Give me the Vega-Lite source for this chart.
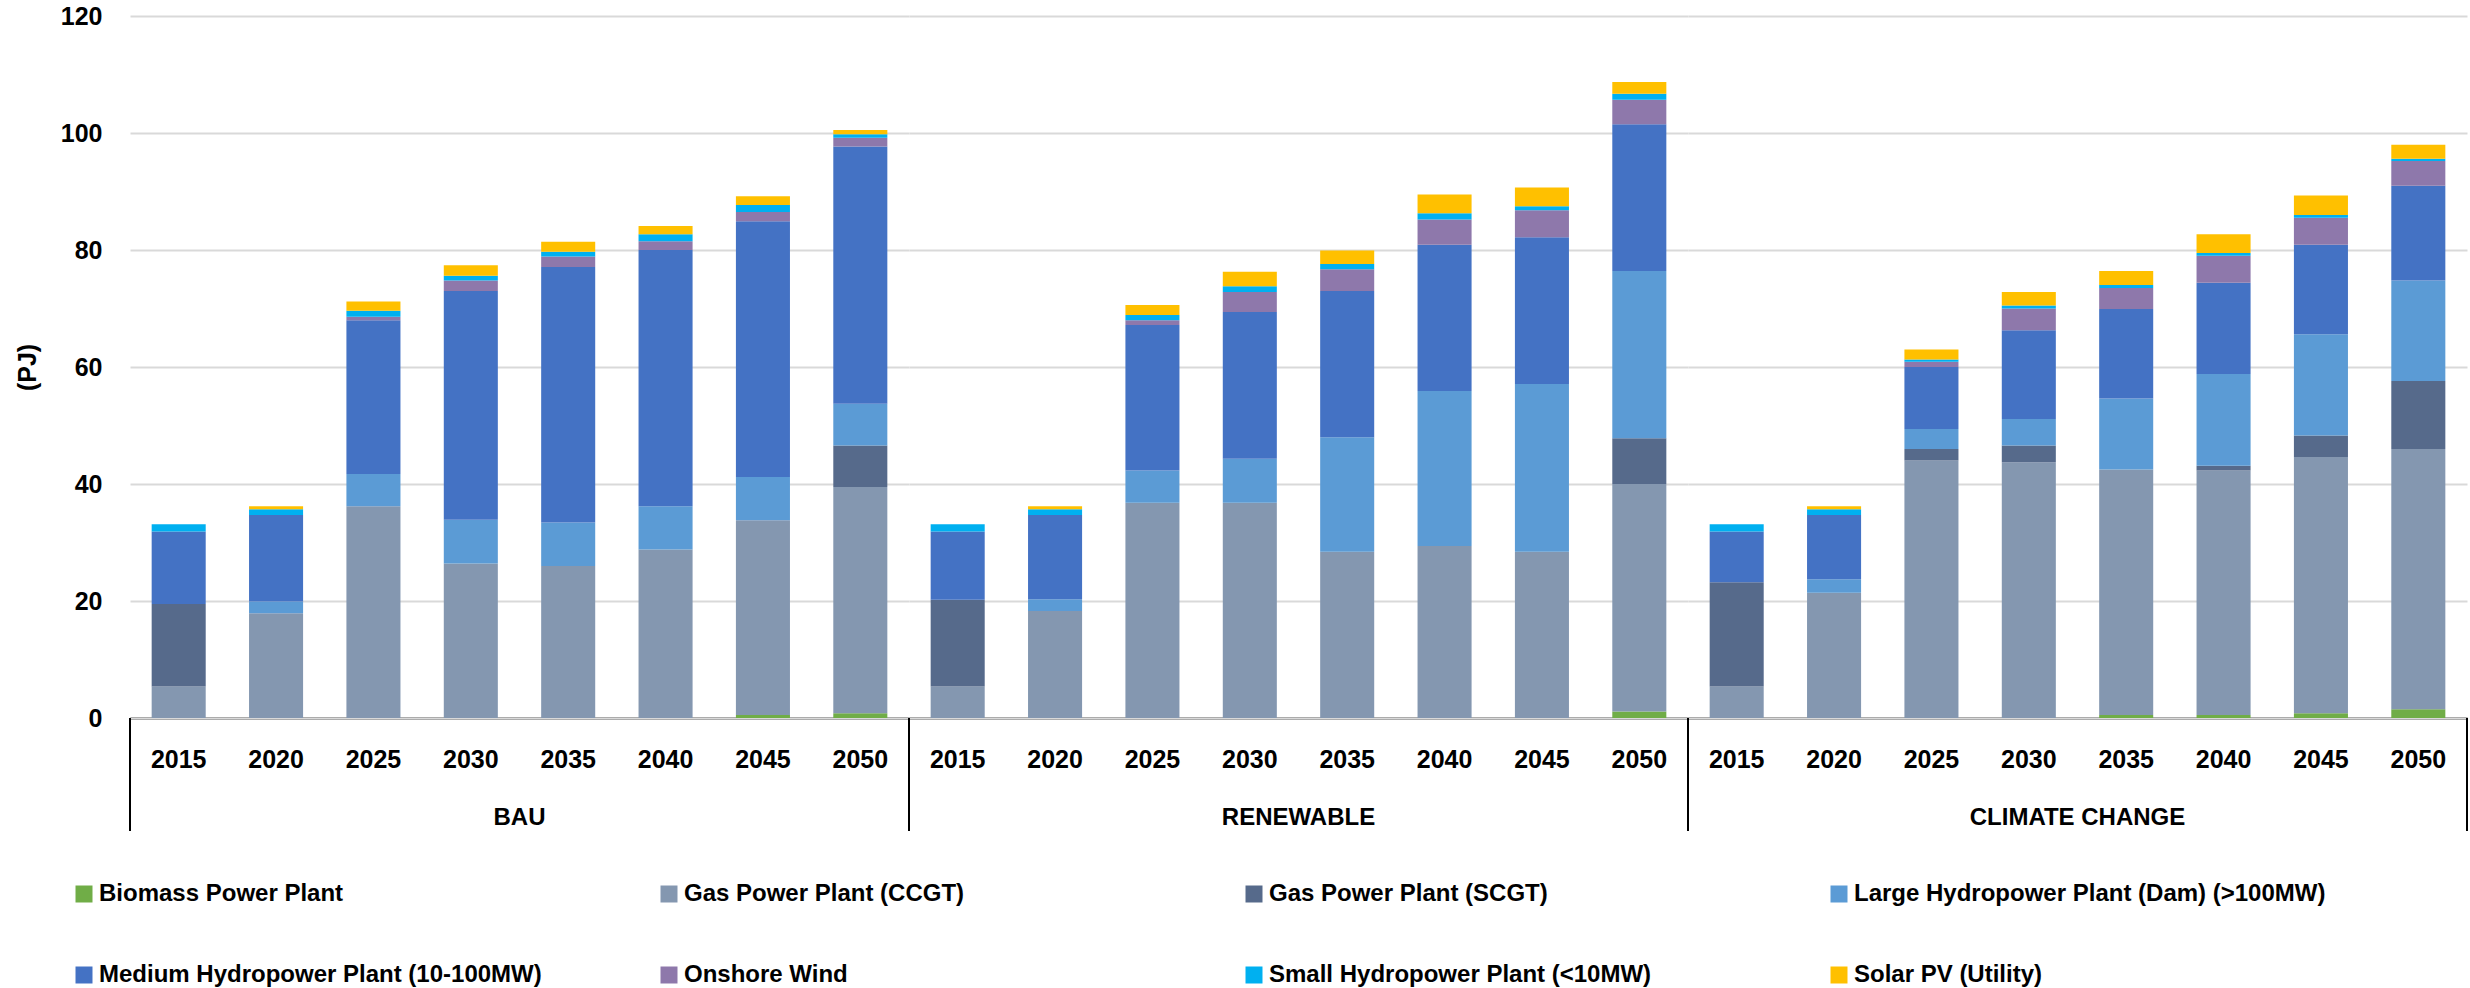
{
  "$schema": "https://vega.github.io/schema/vega-lite/v6.json",
  "padding": {"left": 15, "top": 4, "right": 0, "bottom": 0},
  "background": "white",
  "config": {
    "font": "Liberation Sans",
    "view": {"stroke": null},
    "axis": {"labelFont": "Liberation Sans", "titleFont": "Liberation Sans"}
  },
  "data": {"values": [
    {"scenario": "BAU", "year": "2015", "tech": "Gas Power Plant (CCGT)", "value": 5.4},
    {"scenario": "BAU", "year": "2015", "tech": "Gas Power Plant (SCGT)", "value": 14.1},
    {"scenario": "BAU", "year": "2015", "tech": "Medium Hydropower Plant (10-100MW)", "value": 12.4},
    {"scenario": "BAU", "year": "2015", "tech": "Small Hydropower Plant (<10MW)", "value": 1.2},
    {"scenario": "BAU", "year": "2020", "tech": "Gas Power Plant (CCGT)", "value": 17.9},
    {"scenario": "BAU", "year": "2020", "tech": "Large Hydropower Plant (Dam) (>100MW)", "value": 2.0},
    {"scenario": "BAU", "year": "2020", "tech": "Medium Hydropower Plant (10-100MW)", "value": 14.8},
    {"scenario": "BAU", "year": "2020", "tech": "Small Hydropower Plant (<10MW)", "value": 1.0},
    {"scenario": "BAU", "year": "2020", "tech": "Solar PV (Utility)", "value": 0.5},
    {"scenario": "BAU", "year": "2025", "tech": "Gas Power Plant (CCGT)", "value": 36.2},
    {"scenario": "BAU", "year": "2025", "tech": "Large Hydropower Plant (Dam) (>100MW)", "value": 5.5},
    {"scenario": "BAU", "year": "2025", "tech": "Medium Hydropower Plant (10-100MW)", "value": 26.3},
    {"scenario": "BAU", "year": "2025", "tech": "Onshore Wind", "value": 0.6},
    {"scenario": "BAU", "year": "2025", "tech": "Small Hydropower Plant (<10MW)", "value": 1.0},
    {"scenario": "BAU", "year": "2025", "tech": "Solar PV (Utility)", "value": 1.6},
    {"scenario": "BAU", "year": "2030", "tech": "Gas Power Plant (CCGT)", "value": 26.4},
    {"scenario": "BAU", "year": "2030", "tech": "Large Hydropower Plant (Dam) (>100MW)", "value": 7.5},
    {"scenario": "BAU", "year": "2030", "tech": "Medium Hydropower Plant (10-100MW)", "value": 39.1},
    {"scenario": "BAU", "year": "2030", "tech": "Onshore Wind", "value": 1.8},
    {"scenario": "BAU", "year": "2030", "tech": "Small Hydropower Plant (<10MW)", "value": 0.8},
    {"scenario": "BAU", "year": "2030", "tech": "Solar PV (Utility)", "value": 1.8},
    {"scenario": "BAU", "year": "2035", "tech": "Gas Power Plant (CCGT)", "value": 26.0},
    {"scenario": "BAU", "year": "2035", "tech": "Large Hydropower Plant (Dam) (>100MW)", "value": 7.4},
    {"scenario": "BAU", "year": "2035", "tech": "Medium Hydropower Plant (10-100MW)", "value": 43.7},
    {"scenario": "BAU", "year": "2035", "tech": "Onshore Wind", "value": 1.8},
    {"scenario": "BAU", "year": "2035", "tech": "Small Hydropower Plant (<10MW)", "value": 0.8},
    {"scenario": "BAU", "year": "2035", "tech": "Solar PV (Utility)", "value": 1.7},
    {"scenario": "BAU", "year": "2040", "tech": "Gas Power Plant (CCGT)", "value": 28.8},
    {"scenario": "BAU", "year": "2040", "tech": "Large Hydropower Plant (Dam) (>100MW)", "value": 7.4},
    {"scenario": "BAU", "year": "2040", "tech": "Medium Hydropower Plant (10-100MW)", "value": 43.8},
    {"scenario": "BAU", "year": "2040", "tech": "Onshore Wind", "value": 1.5},
    {"scenario": "BAU", "year": "2040", "tech": "Small Hydropower Plant (<10MW)", "value": 1.2},
    {"scenario": "BAU", "year": "2040", "tech": "Solar PV (Utility)", "value": 1.4},
    {"scenario": "BAU", "year": "2045", "tech": "Biomass Power Plant", "value": 0.5},
    {"scenario": "BAU", "year": "2045", "tech": "Gas Power Plant (CCGT)", "value": 33.3},
    {"scenario": "BAU", "year": "2045", "tech": "Large Hydropower Plant (Dam) (>100MW)", "value": 7.4},
    {"scenario": "BAU", "year": "2045", "tech": "Medium Hydropower Plant (10-100MW)", "value": 43.7},
    {"scenario": "BAU", "year": "2045", "tech": "Onshore Wind", "value": 1.6},
    {"scenario": "BAU", "year": "2045", "tech": "Small Hydropower Plant (<10MW)", "value": 1.2},
    {"scenario": "BAU", "year": "2045", "tech": "Solar PV (Utility)", "value": 1.5},
    {"scenario": "BAU", "year": "2050", "tech": "Biomass Power Plant", "value": 0.8},
    {"scenario": "BAU", "year": "2050", "tech": "Gas Power Plant (CCGT)", "value": 38.7},
    {"scenario": "BAU", "year": "2050", "tech": "Gas Power Plant (SCGT)", "value": 7.1},
    {"scenario": "BAU", "year": "2050", "tech": "Large Hydropower Plant (Dam) (>100MW)", "value": 7.1},
    {"scenario": "BAU", "year": "2050", "tech": "Medium Hydropower Plant (10-100MW)", "value": 44.0},
    {"scenario": "BAU", "year": "2050", "tech": "Onshore Wind", "value": 1.5},
    {"scenario": "BAU", "year": "2050", "tech": "Small Hydropower Plant (<10MW)", "value": 0.6},
    {"scenario": "BAU", "year": "2050", "tech": "Solar PV (Utility)", "value": 0.7},

    {"scenario": "RENEWABLE", "year": "2015", "tech": "Gas Power Plant (CCGT)", "value": 5.4},
    {"scenario": "RENEWABLE", "year": "2015", "tech": "Gas Power Plant (SCGT)", "value": 14.8},
    {"scenario": "RENEWABLE", "year": "2015", "tech": "Medium Hydropower Plant (10-100MW)", "value": 11.7},
    {"scenario": "RENEWABLE", "year": "2015", "tech": "Small Hydropower Plant (<10MW)", "value": 1.2},
    {"scenario": "RENEWABLE", "year": "2020", "tech": "Gas Power Plant (CCGT)", "value": 18.3},
    {"scenario": "RENEWABLE", "year": "2020", "tech": "Large Hydropower Plant (Dam) (>100MW)", "value": 2.0},
    {"scenario": "RENEWABLE", "year": "2020", "tech": "Medium Hydropower Plant (10-100MW)", "value": 14.4},
    {"scenario": "RENEWABLE", "year": "2020", "tech": "Small Hydropower Plant (<10MW)", "value": 1.0},
    {"scenario": "RENEWABLE", "year": "2020", "tech": "Solar PV (Utility)", "value": 0.5},
    {"scenario": "RENEWABLE", "year": "2025", "tech": "Gas Power Plant (CCGT)", "value": 36.8},
    {"scenario": "RENEWABLE", "year": "2025", "tech": "Large Hydropower Plant (Dam) (>100MW)", "value": 5.5},
    {"scenario": "RENEWABLE", "year": "2025", "tech": "Medium Hydropower Plant (10-100MW)", "value": 24.9},
    {"scenario": "RENEWABLE", "year": "2025", "tech": "Onshore Wind", "value": 0.8},
    {"scenario": "RENEWABLE", "year": "2025", "tech": "Small Hydropower Plant (<10MW)", "value": 0.9},
    {"scenario": "RENEWABLE", "year": "2025", "tech": "Solar PV (Utility)", "value": 1.7},
    {"scenario": "RENEWABLE", "year": "2030", "tech": "Gas Power Plant (CCGT)", "value": 36.8},
    {"scenario": "RENEWABLE", "year": "2030", "tech": "Large Hydropower Plant (Dam) (>100MW)", "value": 7.5},
    {"scenario": "RENEWABLE", "year": "2030", "tech": "Medium Hydropower Plant (10-100MW)", "value": 25.1},
    {"scenario": "RENEWABLE", "year": "2030", "tech": "Onshore Wind", "value": 3.4},
    {"scenario": "RENEWABLE", "year": "2030", "tech": "Small Hydropower Plant (<10MW)", "value": 1.0},
    {"scenario": "RENEWABLE", "year": "2030", "tech": "Solar PV (Utility)", "value": 2.5},
    {"scenario": "RENEWABLE", "year": "2035", "tech": "Gas Power Plant (CCGT)", "value": 28.4},
    {"scenario": "RENEWABLE", "year": "2035", "tech": "Large Hydropower Plant (Dam) (>100MW)", "value": 19.6},
    {"scenario": "RENEWABLE", "year": "2035", "tech": "Medium Hydropower Plant (10-100MW)", "value": 25.0},
    {"scenario": "RENEWABLE", "year": "2035", "tech": "Onshore Wind", "value": 3.7},
    {"scenario": "RENEWABLE", "year": "2035", "tech": "Small Hydropower Plant (<10MW)", "value": 0.9},
    {"scenario": "RENEWABLE", "year": "2035", "tech": "Solar PV (Utility)", "value": 2.3},
    {"scenario": "RENEWABLE", "year": "2040", "tech": "Gas Power Plant (CCGT)", "value": 29.4},
    {"scenario": "RENEWABLE", "year": "2040", "tech": "Large Hydropower Plant (Dam) (>100MW)", "value": 26.5},
    {"scenario": "RENEWABLE", "year": "2040", "tech": "Medium Hydropower Plant (10-100MW)", "value": 25.0},
    {"scenario": "RENEWABLE", "year": "2040", "tech": "Onshore Wind", "value": 4.3},
    {"scenario": "RENEWABLE", "year": "2040", "tech": "Small Hydropower Plant (<10MW)", "value": 1.1},
    {"scenario": "RENEWABLE", "year": "2040", "tech": "Solar PV (Utility)", "value": 3.2},
    {"scenario": "RENEWABLE", "year": "2045", "tech": "Gas Power Plant (CCGT)", "value": 28.4},
    {"scenario": "RENEWABLE", "year": "2045", "tech": "Large Hydropower Plant (Dam) (>100MW)", "value": 28.7},
    {"scenario": "RENEWABLE", "year": "2045", "tech": "Medium Hydropower Plant (10-100MW)", "value": 25.1},
    {"scenario": "RENEWABLE", "year": "2045", "tech": "Onshore Wind", "value": 4.6},
    {"scenario": "RENEWABLE", "year": "2045", "tech": "Small Hydropower Plant (<10MW)", "value": 0.7},
    {"scenario": "RENEWABLE", "year": "2045", "tech": "Solar PV (Utility)", "value": 3.2},
    {"scenario": "RENEWABLE", "year": "2050", "tech": "Biomass Power Plant", "value": 1.1},
    {"scenario": "RENEWABLE", "year": "2050", "tech": "Gas Power Plant (CCGT)", "value": 38.9},
    {"scenario": "RENEWABLE", "year": "2050", "tech": "Gas Power Plant (SCGT)", "value": 7.8},
    {"scenario": "RENEWABLE", "year": "2050", "tech": "Large Hydropower Plant (Dam) (>100MW)", "value": 28.6},
    {"scenario": "RENEWABLE", "year": "2050", "tech": "Medium Hydropower Plant (10-100MW)", "value": 25.1},
    {"scenario": "RENEWABLE", "year": "2050", "tech": "Onshore Wind", "value": 4.2},
    {"scenario": "RENEWABLE", "year": "2050", "tech": "Small Hydropower Plant (<10MW)", "value": 1.0},
    {"scenario": "RENEWABLE", "year": "2050", "tech": "Solar PV (Utility)", "value": 2.0},

    {"scenario": "CLIMATE CHANGE", "year": "2015", "tech": "Gas Power Plant (CCGT)", "value": 5.4},
    {"scenario": "CLIMATE CHANGE", "year": "2015", "tech": "Gas Power Plant (SCGT)", "value": 17.8},
    {"scenario": "CLIMATE CHANGE", "year": "2015", "tech": "Medium Hydropower Plant (10-100MW)", "value": 8.7},
    {"scenario": "CLIMATE CHANGE", "year": "2015", "tech": "Small Hydropower Plant (<10MW)", "value": 1.2},
    {"scenario": "CLIMATE CHANGE", "year": "2020", "tech": "Gas Power Plant (CCGT)", "value": 21.4},
    {"scenario": "CLIMATE CHANGE", "year": "2020", "tech": "Large Hydropower Plant (Dam) (>100MW)", "value": 2.3},
    {"scenario": "CLIMATE CHANGE", "year": "2020", "tech": "Medium Hydropower Plant (10-100MW)", "value": 11.0},
    {"scenario": "CLIMATE CHANGE", "year": "2020", "tech": "Small Hydropower Plant (<10MW)", "value": 1.0},
    {"scenario": "CLIMATE CHANGE", "year": "2020", "tech": "Solar PV (Utility)", "value": 0.5},
    {"scenario": "CLIMATE CHANGE", "year": "2025", "tech": "Gas Power Plant (CCGT)", "value": 44.0},
    {"scenario": "CLIMATE CHANGE", "year": "2025", "tech": "Gas Power Plant (SCGT)", "value": 2.0},
    {"scenario": "CLIMATE CHANGE", "year": "2025", "tech": "Large Hydropower Plant (Dam) (>100MW)", "value": 3.4},
    {"scenario": "CLIMATE CHANGE", "year": "2025", "tech": "Medium Hydropower Plant (10-100MW)", "value": 10.6},
    {"scenario": "CLIMATE CHANGE", "year": "2025", "tech": "Onshore Wind", "value": 0.9},
    {"scenario": "CLIMATE CHANGE", "year": "2025", "tech": "Small Hydropower Plant (<10MW)", "value": 0.4},
    {"scenario": "CLIMATE CHANGE", "year": "2025", "tech": "Solar PV (Utility)", "value": 1.7},
    {"scenario": "CLIMATE CHANGE", "year": "2030", "tech": "Gas Power Plant (CCGT)", "value": 43.7},
    {"scenario": "CLIMATE CHANGE", "year": "2030", "tech": "Gas Power Plant (SCGT)", "value": 2.9},
    {"scenario": "CLIMATE CHANGE", "year": "2030", "tech": "Large Hydropower Plant (Dam) (>100MW)", "value": 4.5},
    {"scenario": "CLIMATE CHANGE", "year": "2030", "tech": "Medium Hydropower Plant (10-100MW)", "value": 15.2},
    {"scenario": "CLIMATE CHANGE", "year": "2030", "tech": "Onshore Wind", "value": 3.7},
    {"scenario": "CLIMATE CHANGE", "year": "2030", "tech": "Small Hydropower Plant (<10MW)", "value": 0.5},
    {"scenario": "CLIMATE CHANGE", "year": "2030", "tech": "Solar PV (Utility)", "value": 2.3},
    {"scenario": "CLIMATE CHANGE", "year": "2035", "tech": "Biomass Power Plant", "value": 0.5},
    {"scenario": "CLIMATE CHANGE", "year": "2035", "tech": "Gas Power Plant (CCGT)", "value": 42.0},
    {"scenario": "CLIMATE CHANGE", "year": "2035", "tech": "Large Hydropower Plant (Dam) (>100MW)", "value": 12.1},
    {"scenario": "CLIMATE CHANGE", "year": "2035", "tech": "Medium Hydropower Plant (10-100MW)", "value": 15.3},
    {"scenario": "CLIMATE CHANGE", "year": "2035", "tech": "Onshore Wind", "value": 3.6},
    {"scenario": "CLIMATE CHANGE", "year": "2035", "tech": "Small Hydropower Plant (<10MW)", "value": 0.5},
    {"scenario": "CLIMATE CHANGE", "year": "2035", "tech": "Solar PV (Utility)", "value": 2.4},
    {"scenario": "CLIMATE CHANGE", "year": "2040", "tech": "Biomass Power Plant", "value": 0.5},
    {"scenario": "CLIMATE CHANGE", "year": "2040", "tech": "Gas Power Plant (CCGT)", "value": 41.8},
    {"scenario": "CLIMATE CHANGE", "year": "2040", "tech": "Gas Power Plant (SCGT)", "value": 0.8},
    {"scenario": "CLIMATE CHANGE", "year": "2040", "tech": "Large Hydropower Plant (Dam) (>100MW)", "value": 15.7},
    {"scenario": "CLIMATE CHANGE", "year": "2040", "tech": "Medium Hydropower Plant (10-100MW)", "value": 15.6},
    {"scenario": "CLIMATE CHANGE", "year": "2040", "tech": "Onshore Wind", "value": 4.6},
    {"scenario": "CLIMATE CHANGE", "year": "2040", "tech": "Small Hydropower Plant (<10MW)", "value": 0.5},
    {"scenario": "CLIMATE CHANGE", "year": "2040", "tech": "Solar PV (Utility)", "value": 3.2},
    {"scenario": "CLIMATE CHANGE", "year": "2045", "tech": "Biomass Power Plant", "value": 0.8},
    {"scenario": "CLIMATE CHANGE", "year": "2045", "tech": "Gas Power Plant (CCGT)", "value": 43.8},
    {"scenario": "CLIMATE CHANGE", "year": "2045", "tech": "Gas Power Plant (SCGT)", "value": 3.7},
    {"scenario": "CLIMATE CHANGE", "year": "2045", "tech": "Large Hydropower Plant (Dam) (>100MW)", "value": 17.3},
    {"scenario": "CLIMATE CHANGE", "year": "2045", "tech": "Medium Hydropower Plant (10-100MW)", "value": 15.3},
    {"scenario": "CLIMATE CHANGE", "year": "2045", "tech": "Onshore Wind", "value": 4.6},
    {"scenario": "CLIMATE CHANGE", "year": "2045", "tech": "Small Hydropower Plant (<10MW)", "value": 0.5},
    {"scenario": "CLIMATE CHANGE", "year": "2045", "tech": "Solar PV (Utility)", "value": 3.3},
    {"scenario": "CLIMATE CHANGE", "year": "2050", "tech": "Biomass Power Plant", "value": 1.5},
    {"scenario": "CLIMATE CHANGE", "year": "2050", "tech": "Gas Power Plant (CCGT)", "value": 44.5},
    {"scenario": "CLIMATE CHANGE", "year": "2050", "tech": "Gas Power Plant (SCGT)", "value": 11.6},
    {"scenario": "CLIMATE CHANGE", "year": "2050", "tech": "Large Hydropower Plant (Dam) (>100MW)", "value": 17.2},
    {"scenario": "CLIMATE CHANGE", "year": "2050", "tech": "Medium Hydropower Plant (10-100MW)", "value": 16.2},
    {"scenario": "CLIMATE CHANGE", "year": "2050", "tech": "Onshore Wind", "value": 4.2},
    {"scenario": "CLIMATE CHANGE", "year": "2050", "tech": "Small Hydropower Plant (<10MW)", "value": 0.4},
    {"scenario": "CLIMATE CHANGE", "year": "2050", "tech": "Solar PV (Utility)", "value": 2.4}
  ]},
  "facet": {
    "column": {
      "field": "scenario",
      "type": "nominal",
      "sort": ["BAU", "RENEWABLE", "CLIMATE CHANGE"],
      "header": {
        "title": null,
        "labelOrient": "bottom",
        "labelFont": "Liberation Sans",
        "labelFontSize": 24,
        "labelFontWeight": "bold",
        "labelColor": "black",
        "labelPadding": 34
      }
    }
  },
  "spacing": 0,
  "bounds": "flush",
  "spec": {
    "width": 779,
    "height": 702,
    "layer": [
      {
        "mark": {"type": "bar", "width": {"band": 0.555}},
        "encoding": {
          "x": {
            "field": "year",
            "type": "nominal",
            "scale": {"paddingInner": 0, "paddingOuter": 0},
            "axis": {
              "title": null,
              "labelAngle": 0,
              "labelFontSize": 25,
              "labelFontWeight": "bold",
              "labelColor": "black",
              "labelPadding": 29,
              "ticks": false,
              "domainColor": "black",
              "domainWidth": 2
            }
          },
          "y": {
            "field": "value",
            "type": "quantitative",
            "aggregate": "sum",
            "stack": "zero",
            "scale": {"domain": [0, 120]},
            "axis": {
              "title": "(PJ)",
              "titleFontSize": 25,
              "titleFontWeight": "bold",
              "titleColor": "black",
              "titlePadding": 20,
              "values": [0, 20, 40, 60, 80, 100, 120],
              "labelFontSize": 25,
              "labelFontWeight": "bold",
              "labelColor": "black",
              "labelPadding": 28,
              "ticks": false,
              "domain": false,
              "gridColor": "#d9d9d9",
              "gridWidth": 2
            }
          },
          "color": {
            "field": "tech",
            "type": "nominal",
            "scale": {
              "domain": ["Biomass Power Plant", "Gas Power Plant (CCGT)", "Gas Power Plant (SCGT)", "Large Hydropower Plant (Dam) (>100MW)", "Medium Hydropower Plant (10-100MW)", "Onshore Wind", "Small Hydropower Plant (<10MW)", "Solar PV (Utility)"],
              "range": ["#70ad47", "#8497b0", "#566a8b", "#5b9bd5", "#4472c4", "#8e78ab", "#00b0f0", "#ffc000"]
            },
            "legend": {
              "title": null,
              "orient": "none",
              "direction": "horizontal",
              "columns": 4,
              "legendX": -58,
              "legendY": 866,
              "gridAlign": "all",
              "symbolType": "square",
              "symbolSize": 289,
              "symbolStrokeWidth": 0,
              "labelFont": "Liberation Sans",
              "labelFontSize": 24,
              "labelFontWeight": "bold",
              "labelColor": "black",
              "labelOffset": 3,
              "labelLimit": 800,
              "columnPadding": 86,
              "rowPadding": 57
            }
          },
          "order": {"field": "tech", "sort": "ascending"}
        }
      },
      {
        "transform": [{"filter": "datum.year == '2015' && datum.tech == 'Gas Power Plant (CCGT)'"}],
        "mark": {"type": "rule", "color": "black", "strokeWidth": 2, "y2Offset": 113},
        "encoding": {
          "x": {"field": "year", "type": "nominal", "bandPosition": 0},
          "y": {"datum": 0},
          "y2": {"datum": 0}
        }
      },
      {
        "transform": [{"filter": "datum.year == '2050' && datum.scenario == 'CLIMATE CHANGE' && datum.tech == 'Gas Power Plant (CCGT)'"}],
        "mark": {"type": "rule", "color": "black", "strokeWidth": 2, "y2Offset": 113},
        "encoding": {
          "x": {"field": "year", "type": "nominal", "bandPosition": 1},
          "y": {"datum": 0},
          "y2": {"datum": 0}
        }
      }
    ]
  }
}
